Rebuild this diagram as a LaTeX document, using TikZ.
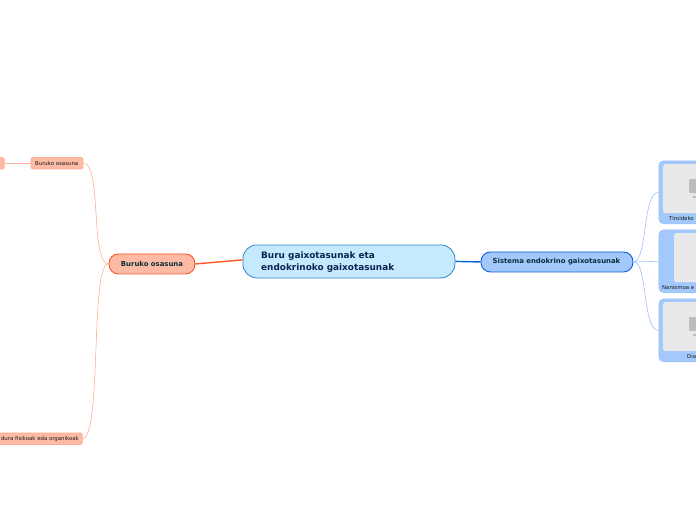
\documentclass[tikz,border=0pt]{standalone}
\usepackage{fontspec}
\setmainfont{DejaVu Sans}
\definecolor{rootfill}{HTML}{C5EAFE}
\definecolor{rootline}{HTML}{2E86C8}
\definecolor{blfill}{HTML}{A3C8FB}
\definecolor{blline}{HTML}{0A5FD8}
\definecolor{blthin}{HTML}{9CC2F5}
\definecolor{orfill}{HTML}{FDBBA6}
\definecolor{orline}{HTML}{FF5722}
\definecolor{orthin}{HTML}{FDAE96}
\definecolor{darktext}{HTML}{0B2E3A}
\definecolor{roottext}{HTML}{0A2350}
\definecolor{imgfill}{HTML}{E9E9E9}
\definecolor{icon}{HTML}{BDBDBD}
\tikzset{
 rootbox/.style={draw=rootline,fill=rootfill,line width=.8pt,rounded corners=14pt,minimum width=212pt,minimum height=33pt,inner sep=0pt},
 mainbox/.style={line width=.9pt,rounded corners=9.5pt,inner sep=0pt},
 mainlabel/.style={font=\bfseries\fontsize{6.9}{8}\selectfont,text=darktext},
 subbox/.style={draw=orthin,fill=orfill,line width=.9pt,rounded corners=1.5pt,minimum height=11.5pt,inner sep=0pt},
 sublabel/.style={font=\fontsize{5.4}{6}\selectfont,text=black!90,inner sep=0pt},
 card/.style={draw=blthin,fill=blfill,line width=.6pt,rounded corners=5pt,inner sep=0pt},
 imgbox/.style={fill=imgfill,rounded corners=2pt,inner sep=0pt},
 thick link/.style={line width=1.4pt},
 thin link/.style={line width=.6pt}
}
\begin{document}
\begin{tikzpicture}[x=1pt,y=-1pt]
\useasboundingbox (0,0) rectangle (696,520);
\node[rootbox,anchor=north west] (root) at (242.5,244.5) {};
\node[anchor=west,align=left,inner sep=0pt,font=\bfseries\fontsize{8.9}{11.5}\selectfont,text=roottext] (roottxt) at (261,262) {Buru gaixotasunak eta\\endokrinoko gaixotasunak};
\node[mainbox,draw=blline,fill=blfill,minimum width=152pt,minimum height=20pt,anchor=north west] (sis) at (480.5,251.5) {};
\node[mainlabel] (sistxt) at (556.5,261.8) {Sistema endokrino gaixotasunak};
\node[mainbox,draw=orline,fill=orfill,minimum width=86pt,minimum height=20pt,anchor=north west] (bur) at (108.5,253.5) {};
\node[mainlabel] (burtxt) at (152,264) {Buruko osasuna};
\node[subbox,minimum width=52pt,anchor=north west] (sub1) at (30.5,157) {};
\node[sublabel] (sub1t) at (56.7,163.3) {Buruko osasuna};
\node[subbox,minimum width=12pt,anchor=north east] (sub0) at (4.5,157) {};
\node[subbox,minimum width=120pt,anchor=north east] (sub2) at (82.5,432.5) {};
\node[sublabel,anchor=east] (sub2t) at (79,438.6) {dura fisikoak eda organikoak};
\node[card,minimum width=60pt,minimum height=63pt,anchor=north west] (c1) at (658.5,160.5) {};
\node[card,minimum width=60pt,minimum height=63pt,anchor=north west] (c2) at (658.5,229.5) {};
\node[card,minimum width=60pt,minimum height=63pt,anchor=north west] (c3) at (658.5,298.5) {};
\node[imgbox,minimum width=50pt,minimum height=49pt,anchor=north west] (i1) at (663,164) {};
\node[imgbox,minimum width=40pt,minimum height=49pt,anchor=north west] (i2) at (674,233) {};
\node[imgbox,minimum width=50pt,minimum height=49pt,anchor=north west] (i3) at (663,302) {};
\node[sublabel,anchor=west] (c1t) at (669,218.8) {Tiroideko};
\node[sublabel,anchor=west] (c2t) at (662,287.8) {Nanismoa e};
\node[sublabel,anchor=west] (c3t) at (687,356.8) {Dia};
\fill[icon,rounded corners=1pt] (689,179) rectangle (704,193);
\fill[icon] (692.5,195.8) rectangle (696,198.3);
\fill[icon,rounded corners=1pt] (689,317) rectangle (704,331);
\fill[icon] (692.5,333.8) rectangle (696,336.3);
\coordinate (ra) at ([yshift=1.5pt]root.west);
\draw[orline,thick link] (ra) -- (bur.east);
\draw[blline,thick link] (root.east) -- (sis.west);
\draw[blthin,thin link] (sis.east) .. controls (648,261) and (642,193) .. (c1.west);
\draw[blthin,thin link] (sis.east) -- (c2.west);
\draw[blthin,thin link] (sis.east) .. controls (648,261) and (642,330) .. (c3.west);
\draw[orthin,thin link] (bur.west) .. controls (90,263) and (102,163) .. (sub1.east);
\draw[orthin,thin link] (bur.west) .. controls (90,263) and (102,438) .. (sub2.east);
\draw[orthin,thin link] (sub1.west) -- (sub0.east);
\end{tikzpicture}
\end{document}
